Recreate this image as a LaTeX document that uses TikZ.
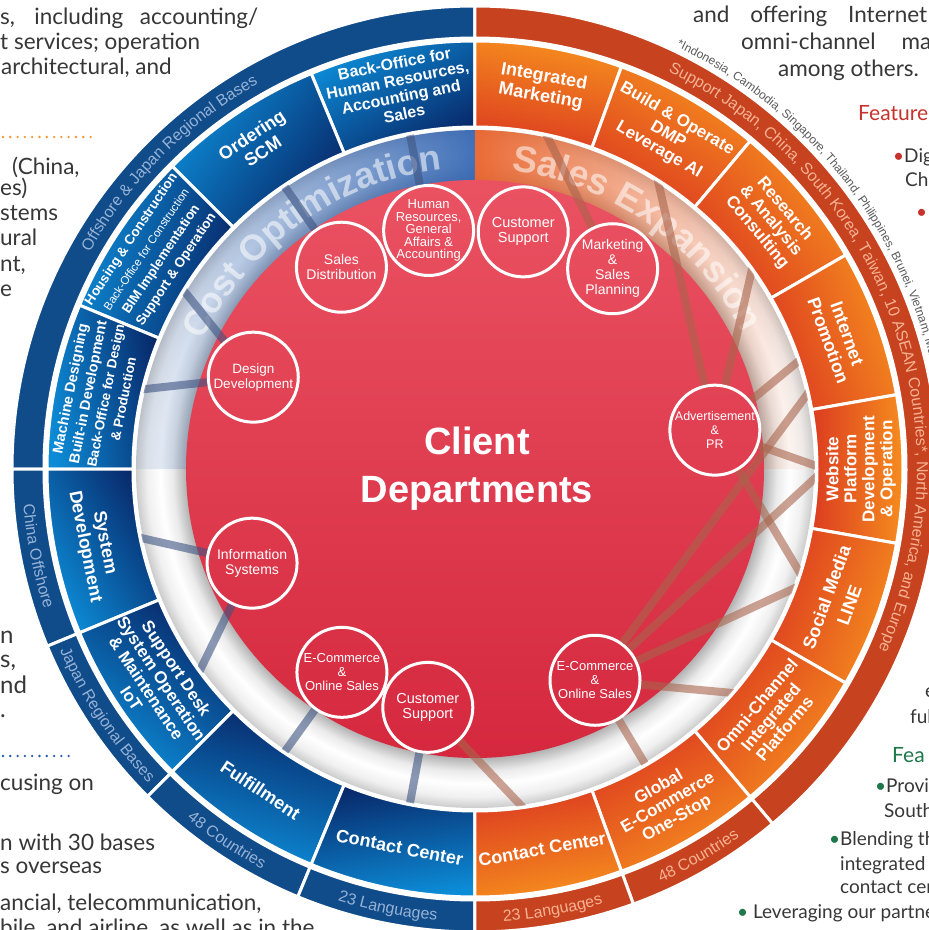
\documentclass[tikz,border=0pt]{standalone}
\usepackage{fontspec}
\setmainfont{Liberation Sans}
\newfontfamily\pagefont{Lato}
\usetikzlibrary{decorations.text, fadings}
\definecolor{navyDark}{RGB}{8,40,105}
\definecolor{skyBright}{RGB}{12,140,215}
\definecolor{flameDark}{RGB}{220,60,32}
\definecolor{flameBright}{RGB}{246,142,30}
\definecolor{ringBlue}{RGB}{16,76,138}
\definecolor{ringOrange}{RGB}{199,66,31}
\definecolor{ringBlueText}{RGB}{150,178,214}
\definecolor{ringOrangeText}{RGB}{246,178,146}
\definecolor{redTop}{RGB}{234,82,98}
\definecolor{redBottom}{RGB}{213,40,62}
\definecolor{bandBlue}{RGB}{46,98,178}
\definecolor{bandOrange}{RGB}{234,100,44}
\definecolor{linkBrown}{RGB}{168,100,76}
\definecolor{linkBlue}{RGB}{62,84,130}
\definecolor{pageGrey}{RGB}{55,55,55}
\definecolor{noteGrey}{RGB}{90,90,90}
\definecolor{headRed}{RGB}{200,50,45}
\definecolor{headGreen}{RGB}{30,120,75}
\definecolor{dotOrange}{RGB}{243,150,45}
\definecolor{dotBlue}{RGB}{35,90,170}

% grey tube between the service ring and the department disc
\pgfdeclareradialshading{tubering}{\pgfpointorigin}{%
  color(0bp)=(black!30); color(21.31bp)=(black!30); color(22.3bp)=(black!8);
  color(23.2bp)=(white); color(24.2bp)=(black!6); color(25bp)=(black!20); color(50bp)=(black!20)}
\tikzfading[name=bandfadeleft, left color=transparent!92, right color=transparent!10]
\tikzfading[name=bandfaderight, left color=transparent!5, right color=transparent!100]

% ring sector: start angle, end angle, inner radius, outer radius
\newcommand{\ringsector}[4]{(#1:#3) arc[start angle=#1, end angle=#2, radius=#3] -- (#2:#4) arc[start angle=#2, end angle=#1, radius=#4] -- cycle}

\begin{document}
\begin{tikzpicture}[x=1pt, y=1pt,
    dept/.style={circle, draw=white, line width=3pt, minimum size=90pt, inner sep=0pt, align=center, text=white, font=\fontsize{14}{15}\selectfont},
    seglabel/.style={align=center, text=white, font=\bfseries\fontsize{17}{18}\selectfont},
    bluesector/.style={draw=white, line width=3pt, bottom color=navyDark, top color=skyBright},
    orangesector/.style={draw=white, line width=3pt, bottom color=flameDark, top color=flameBright},
    bluelink/.style={draw=linkBlue, line width=8pt, opacity=0.6},
    brownlink/.style={draw=linkBrown, line width=8pt, opacity=0.6},
    ringlabel/.style 2 args={decorate, decoration={text along path, text align=center, text color=#1, text={|\fontsize{16}{16}\selectfont|#2}}},
    pagetext/.style={anchor=base west, inner sep=0pt, text=pageGrey, font=\pagefont\fontsize{22.5}{25}\selectfont},
    sidetext/.style={pagetext, font=\pagefont\fontsize{19}{22}\selectfont}
]
    % Page
    \path[use as bounding box, fill=white] (-475,-461) rectangle (454,469);

    % Brochure text around the wheel
    \node[pagetext] (leftA) at (-475,444) {\makebox[258pt][s]{s, including accounting/}};
    \node[pagetext] (leftB) at (-475,419) {t services; operation};
    \node[pagetext] (leftC) at (-474,394) {architectural, and};
    \draw[dotOrange, line width=2.6pt, line cap=round, dash pattern=on 0pt off 7.3pt] (-472,332) -- (-378,332);
    \node[pagetext] (leftD) at (-463,294) {(China,};
    \node[pagetext] (leftE) at (-475,273) {es)};
    \node[pagetext] (leftF) at (-475,248) {stems};
    \node[pagetext] (leftG) at (-475,223) {ural};
    \node[pagetext] (leftH) at (-475,198) {nt,};
    \node[pagetext] (leftI) at (-475,173) {e};
    \node[pagetext, font=\pagefont\fontsize{24}{26}\selectfont] (leftJ) at (-475,-174) {n};
    \node[pagetext, font=\pagefont\fontsize{24}{26}\selectfont] (leftK) at (-475,-198) {s,};
    \node[pagetext, font=\pagefont\fontsize{24}{26}\selectfont] (leftL) at (-475,-224) {nd};
    \node[pagetext, font=\pagefont\fontsize{24}{26}\selectfont] (leftM) at (-475,-248) {.};
    \draw[dotBlue, line width=2.6pt, line cap=round, dash pattern=on 0pt off 7.3pt] (-472,-287) -- (-400,-287);
    \node[pagetext] (leftN) at (-475,-321) {cusing on};
    \node[pagetext] (leftO) at (-475,-381) {n with 30 bases};
    \node[pagetext] (leftP) at (-475,-404) {s overseas};
    \node[pagetext] (leftQ) at (-475,-441) {ancial, telecommunication,};
    \node[pagetext] (leftR) at (-475,-466) {bile, and airline, as well as in the};
    \node[pagetext] (rightA) at (218,446) {\makebox[234pt][s]{and offering Internet}};
    \node[pagetext] (rightB) at (266,419) {\makebox[190pt][s]{omni-channel ma}};
    \node[pagetext] (rightC) at (303,392) {among others.};
    \node[pagetext, text=headRed, font=\pagefont\fontsize{21}{24}\selectfont] (rightD) at (383,348) {Feature};
    \node[sidetext] (rightE) at (418,306) {\textcolor{headRed}{•}Dig};
    \node[sidetext] (rightF) at (430,282) {Ch};
    \node[sidetext, text=headRed] (rightG) at (441,251) {•};
    \node[sidetext] (rightH) at (450,-228) {e};
    \node[sidetext] (rightI) at (435,-254) {ful};
    \node[pagetext, text=headGreen, font=\pagefont\fontsize{21}{24}\selectfont] (rightJ) at (417,-293) {Fea};
    \node[sidetext] (rightK) at (400,-323) {\textcolor{headGreen}{•}Provid};
    \node[sidetext] (rightL) at (409,-348) {South};
    \node[sidetext] (rightM) at (354,-376) {\textcolor{headGreen}{•}Blending th};
    \node[sidetext] (rightN) at (365,-401) {integrated e};
    \node[sidetext] (rightO) at (365,-424) {contact cent};
    \node[sidetext] (rightP) at (262,-449) {\textcolor{headGreen}{•} Leveraging our partnersh};

    % Outer ring
    \foreach \a/\b in {90/180, 180/202.5, 202.5/225, 225/247.5, 247.5/270}
        \filldraw[fill=ringBlue, draw=white, line width=3pt] \ringsector{\a}{\b}{431}{463};
    \foreach \a/\b in {-50/90, -70/-50, -90/-70}
        \filldraw[fill=ringOrange, draw=white, line width=3pt] \ringsector{\a}{\b}{431}{463};

    % Service segments
    \foreach \a/\b in {90/112.5, 112.5/135, 135/157.5, 157.5/180, 180/202.5, 202.5/225, 225/247.5, 247.5/270}{
        \pgfmathsetmacro{\sang}{(\a+\b)/2-70}
        \shadedraw[bluesector, shading angle=\sang] \ringsector{\a}{\b}{342}{428};
    }
    \foreach \a/\b in {70/90, 50/70, 30/50, 10/30, -10/10, -30/-10, -50/-30, -70/-50, -90/-70}{
        \pgfmathsetmacro{\sang}{(\a+\b)/2-90}
        \shadedraw[orangesector, shading angle=\sang] \ringsector{\a}{\b}{342}{428};
    }

    % Tube, bands and department disc
    \shade[shading=tubering] (0,0) circle[radius=339];
    \fill[bandBlue, path fading=bandfadeleft] \ringsector{90}{180}{288}{339};
    \fill[bandOrange, path fading=bandfaderight] \ringsector{0}{90}{288}{339};
    \shade[top color=redTop, bottom color=redBottom] (0,0) circle[radius=289];

    \begin{scope}[opacity=0.55]
        \path[decorate, decoration={text along path, text align=center, text color=white,
            text={|\bfseries\fontsize{36}{36}\selectfont|Cost Optimization}}]
            (170:301) arc[start angle=170, end angle=81, radius=301];
        \path[decorate, decoration={text along path, text align=center, text color=white,
            text={|\bfseries\fontsize{37}{37}\selectfont|Sales Expansion}}]
            (95:300) arc[start angle=95, end angle=15, radius=300];
    \end{scope}

    % Client departments
    \node[text=white, align=center, font=\bfseries\fontsize{38}{48}\selectfont] (clientDept) at (2,0) {Client\\Departments};
    \node[dept] (salesDist) at (123.5:242) {Sales\\Distribution};
    \node[dept, font=\fontsize{13}{12.5}\selectfont] (hrAffairs) at (101:243) {Human\\Resources,\\General\\Affairs \&\\Accounting};
    \node[dept, font=\fontsize{14.5}{15}\selectfont] (custTop) at (78.5:242) {Customer\\Support};
    \node[dept] (mktPlan) at (55.5:243) {Marketing\\\&\\Sales\\Planning};
    \node[dept, font=\fontsize{13.5}{15}\selectfont] (designDev) at (157.5:240) {Design\\Development};
    \node[dept, font=\fontsize{12.5}{14}\selectfont] (adPR) at (9.2:243) {Advertisement\\\&\\PR};
    \node[dept] (infoSys) at (202.9:242) {Information\\Systems};
    \node[dept, font=\fontsize{13}{14}\selectfont] (ecomLeft) at (236.8:243) {E-Commerce\\\&\\Online Sales};
    \node[dept, font=\fontsize{14.5}{15}\selectfont] (custBottom) at (258.8:243) {Customer\\Support};
    \node[dept, font=\fontsize{13}{14}\selectfont] (ecomRight) at (-60.4:243) {E-Commerce\\\&\\Online Sales};

    % Link ends on the service ring
    \coordinate (pBackOffice) at (101:350);
    \coordinate (pOrdering) at (124:350);
    \coordinate (pHousing) at (148:350);
    \coordinate (pMachine) at (167:350);
    \coordinate (pSysDev) at (191:350);
    \coordinate (pSupport) at (217:350);
    \coordinate (pFulfil) at (236:350);
    \coordinate (pContactB) at (259:350);
    \coordinate (pIntMkt) at (79:350);
    \coordinate (pBuild) at (59:350);
    \coordinate (pResearch) at (37:350);
    \coordinate (pInternetA) at (19:350);
    \coordinate (pInternetB) at (14:350);
    \coordinate (pWebsite) at (0:350);
    \coordinate (pSocial) at (-19:350);
    \coordinate (pOmni) at (-40:350);
    \coordinate (pGlobal) at (-60:350);
    \coordinate (pContactO) at (-81:350);

    % Links
    \begin{scope}
        \clip (0,0) circle[radius=340];
        \draw[bluelink] (salesDist) -- (pOrdering);
        \draw[bluelink] (hrAffairs) -- (pBackOffice);
        \draw[bluelink] (designDev) -- (pHousing);
        \draw[bluelink] (designDev) -- (pMachine);
        \draw[bluelink] (infoSys) -- (pSysDev);
        \draw[bluelink] (infoSys) -- (pSupport);
        \draw[bluelink] (ecomLeft) -- (pFulfil);
        \draw[bluelink] (custBottom) -- (pContactB);
        \draw[brownlink] (mktPlan) -- (pIntMkt);
        \draw[brownlink] (adPR) -- (pBuild);
        \draw[brownlink] (adPR) -- (pResearch);
        \draw[brownlink] (adPR) -- (pInternetA);
        \draw[brownlink] (adPR) -- (pWebsite);
        \draw[brownlink] (adPR) -- (pSocial);
        \draw[brownlink] (ecomRight) -- (pInternetB);
        \draw[brownlink] (ecomRight) -- (pWebsite);
        \draw[brownlink] (ecomRight) -- (pSocial);
        \draw[brownlink] (ecomRight) -- (pOmni);
        \draw[brownlink] (ecomRight) -- (pGlobal);
        \draw[brownlink] (custBottom) -- (pContactO);
    \end{scope}

    % Segment labels - cost side
    \node[seglabel, font=\bfseries\fontsize{16}{17}\selectfont, rotate=11.25] (segBackOffice) at (101.25:388) {Back-Office for\\Human Resources,\\Accounting and\\Sales};
    \node[seglabel, font=\bfseries\fontsize{18}{20}\selectfont, rotate=33.75] (segOrdering) at (123.75:392) {Ordering\\SCM};
    \node[seglabel, rotate=56.25] (segHousing) at (146.25:386) {\bfseries\fontsize{13.5}{16}\selectfont Housing \& Construction\\\mdseries\fontsize{11.5}{15}\selectfont Back-Office for Construction\\\bfseries\fontsize{13.5}{15}\selectfont BIM Implementation\\\bfseries\fontsize{13.5}{15}\selectfont Support \& Operation};
    \node[seglabel, rotate=78.75] (segMachine) at (168.75:386) {\bfseries\fontsize{14.5}{18}\selectfont Machine Designing\\\bfseries\fontsize{14.5}{18}\selectfont Built-in Development\\\bfseries\fontsize{13.5}{15}\selectfont Back-Office for Design\\\bfseries\fontsize{13.5}{15}\selectfont \& Production};
    \node[seglabel, font=\bfseries\fontsize{18}{20}\selectfont, rotate=-78.75] (segSystem) at (191.25:388) {System\\Development};
    \node[seglabel, rotate=-56.25] (segSupport) at (213.75:386) {Support Desk\\System Operation\\\& Maintenance\\IoT};
    \node[seglabel, font=\bfseries\fontsize{18}{20}\selectfont, rotate=-33.75] (segFulfil) at (236.25:386) {Fulfillment};
    \node[seglabel, font=\bfseries\fontsize{18}{20}\selectfont, rotate=-11.25] (segContactB) at (258.75:386) {Contact Center};

    % Segment labels - sales side
    \node[seglabel, font=\bfseries\fontsize{18}{20}\selectfont, rotate=-10] (segIntMkt) at (80:388) {Integrated\\Marketing};
    \node[seglabel, rotate=-30] (segBuild) at (60:386) {Build \& Operate\\DMP\\Leverage AI};
    \node[seglabel, rotate=-50] (segResearch) at (40:386) {Research\\\& Analysis\\Consulting};
    \node[seglabel, font=\bfseries\fontsize{18}{20}\selectfont, rotate=-70] (segInternet) at (20:386) {Internet\\Promotion};
    \node[seglabel, rotate=90] (segWebsite) at (0:386) {Website\\Platform\\Development\\\& Operation};
    \node[seglabel, font=\bfseries\fontsize{18}{20}\selectfont, rotate=70] (segSocial) at (-20:386) {Social Media\\[4pt]LINE};
    \node[seglabel, rotate=50] (segOmni) at (-40:386) {Omni-Channel\\Integrated\\Platforms};
    \node[seglabel, rotate=30] (segGlobal) at (-60:386) {Global\\E-Commerce\\One-Stop};
    \node[seglabel, font=\bfseries\fontsize{18}{20}\selectfont, rotate=10] (segContactO) at (-80:386) {Contact Center};

    % Outer ring labels
    \path[ringlabel={ringBlueText}{Offshore {\&} Japan Regional Bases}] (178:442) arc[start angle=178, end angle=92, radius=442];
    \path[ringlabel={ringBlueText}{China Offshore}] (180:453) arc[start angle=180, end angle=202.5, radius=453];
    \path[ringlabel={ringBlueText}{Japan Regional Bases}] (202.5:453) arc[start angle=202.5, end angle=225, radius=453];
    \path[ringlabel={ringBlueText}{48 Countries}] (225:453) arc[start angle=225, end angle=247.5, radius=453];
    \path[ringlabel={ringBlueText}{23 Languages}] (247.5:453) arc[start angle=247.5, end angle=270, radius=453];
    \path[ringlabel={ringOrangeText}{Support Japan, China, South Korea, Taiwan, 10 ASEAN Countries*, North America, and Europe}] (90:442) arc[start angle=90, end angle=-50, radius=442];
    \path[ringlabel={ringOrangeText}{48 Countries}] (-70:453) arc[start angle=-70, end angle=-50, radius=453];
    \path[ringlabel={ringOrangeText}{23 Languages}] (-90:453) arc[start angle=-90, end angle=-70, radius=453];
    \path[decorate, decoration={text along path, text align=left, text color=noteGrey,
        text={|\fontsize{12}{12}\selectfont|*Indonesia, Cambodia, Singapore, Thailand, Philippines, Brunei, Vietnam, Ma}}]
        (64.5:468) arc[start angle=64.5, end angle=0, radius=468];
\end{tikzpicture}
\end{document}
